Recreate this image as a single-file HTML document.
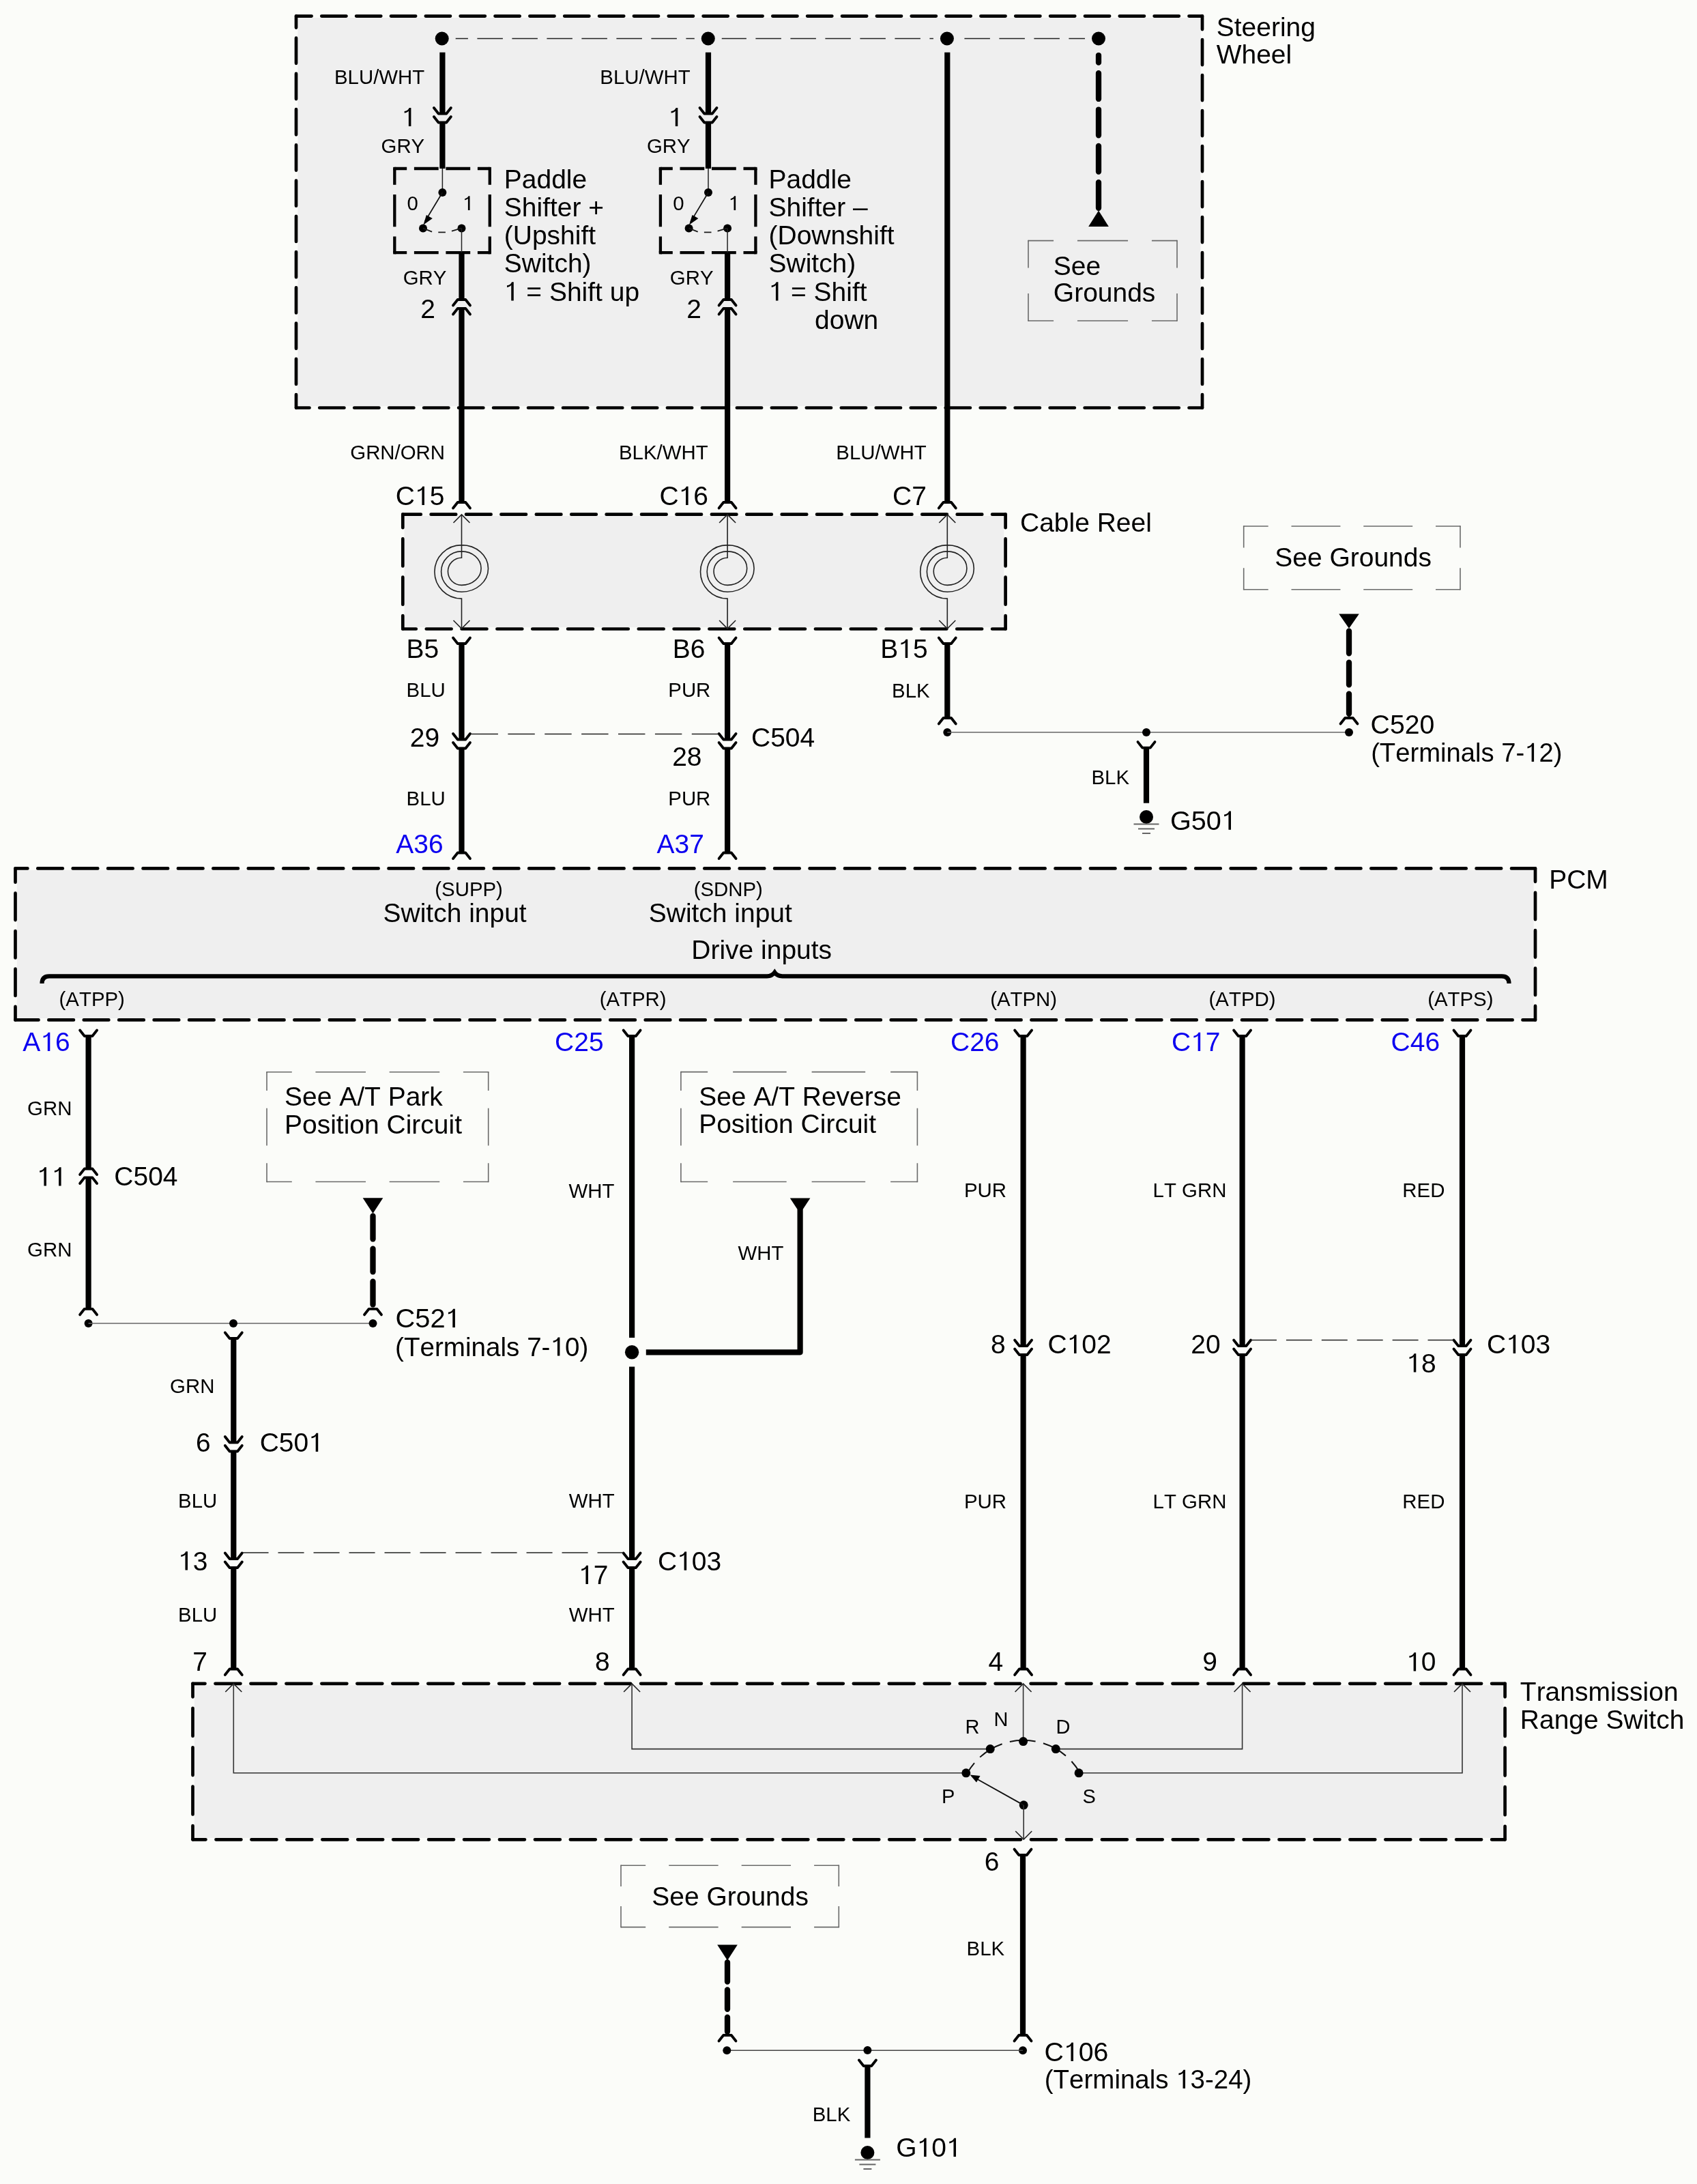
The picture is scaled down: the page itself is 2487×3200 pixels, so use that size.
<!DOCTYPE html>
<html><head><meta charset="utf-8"><style>
html,body{margin:0;padding:0;background:#fbfcf9;}
svg{display:block;will-change:transform;}
text{font-family:"Liberation Sans", sans-serif;font-kerning:none;}
</style></head><body>
<svg width="2487" height="3200" viewBox="0 0 2487 3200">
<rect x="0" y="0" width="2487" height="3200" fill="#fbfcf9"/>
<rect x="436.35" y="25.95" width="1323.3" height="569.2" fill="#efefef"/>
<path d="M434,23.6 L456.6,23.6 M471.28,23.6 L507.45,23.6 M522.13,23.6 L558.3,23.6 M572.98,23.6 L609.15,23.6 M623.83,23.6 L659.99,23.6 M674.68,23.6 L710.84,23.6 M725.53,23.6 L761.69,23.6 M776.38,23.6 L812.54,23.6 M827.22,23.6 L863.39,23.6 M878.07,23.6 L914.24,23.6 M928.92,23.6 L965.09,23.6 M979.77,23.6 L1015.94,23.6 M1030.62,23.6 L1066.78,23.6 M1081.47,23.6 L1117.63,23.6 M1132.32,23.6 L1168.48,23.6 M1183.16,23.6 L1219.33,23.6 M1234.01,23.6 L1270.18,23.6 M1284.86,23.6 L1321.03,23.6 M1335.71,23.6 L1371.88,23.6 M1386.56,23.6 L1422.72,23.6 M1437.41,23.6 L1473.57,23.6 M1488.26,23.6 L1524.42,23.6 M1539.11,23.6 L1575.27,23.6 M1589.95,23.6 L1626.12,23.6 M1640.8,23.6 L1676.97,23.6 M1691.65,23.6 L1727.82,23.6 M1742.5,23.6 L1762,23.6 " stroke="#000" stroke-width="4.7" stroke-linecap="round" fill="none"/>
<path d="M1762,23.6 L1762,43.1 M1762,58.11 L1762,95.09 M1762,110.1 L1762,147.08 M1762,162.09 L1762,199.07 M1762,214.08 L1762,251.06 M1762,266.07 L1762,303.04 M1762,318.06 L1762,355.03 M1762,370.04 L1762,407.02 M1762,422.03 L1762,459.01 M1762,474.02 L1762,511 M1762,526.01 L1762,562.99 M1762,578 L1762,597.5 " stroke="#000" stroke-width="4.7" stroke-linecap="round" fill="none"/>
<path d="M1762,597.5 L1742.5,597.5 M1727.78,597.5 L1691.53,597.5 M1676.81,597.5 L1640.56,597.5 M1625.84,597.5 L1589.59,597.5 M1574.87,597.5 L1538.61,597.5 M1523.9,597.5 L1487.64,597.5 M1472.93,597.5 L1436.67,597.5 M1421.95,597.5 L1385.7,597.5 M1370.98,597.5 L1334.73,597.5 M1320.01,597.5 L1283.76,597.5 M1269.04,597.5 L1232.79,597.5 M1218.07,597.5 L1181.82,597.5 M1167.1,597.5 L1130.84,597.5 M1116.13,597.5 L1079.87,597.5 M1065.16,597.5 L1028.9,597.5 M1014.18,597.5 L977.93,597.5 M963.21,597.5 L926.96,597.5 M912.24,597.5 L875.99,597.5 M861.27,597.5 L825.02,597.5 M810.3,597.5 L774.05,597.5 M759.33,597.5 L723.07,597.5 M708.36,597.5 L672.1,597.5 M657.39,597.5 L621.13,597.5 M606.41,597.5 L570.16,597.5 M555.44,597.5 L519.19,597.5 M504.47,597.5 L468.22,597.5 M453.5,597.5 L434,597.5 " stroke="#000" stroke-width="4.7" stroke-linecap="round" fill="none"/>
<path d="M434,597.5 L434,578 M434,562.92 L434,525.77 M434,510.69 L434,473.54 M434,458.45 L434,421.3 M434,406.22 L434,369.07 M434,353.99 L434,316.84 M434,301.76 L434,264.61 M434,249.53 L434,212.38 M434,197.3 L434,160.15 M434,145.06 L434,107.91 M434,92.83 L434,55.68 M434,40.6 L434,23.6 " stroke="#000" stroke-width="4.7" stroke-linecap="round" fill="none"/>
<text transform="translate(1782.73,52.9) scale(0.9870,1)" x="0" y="0" font-size="39.5" text-anchor="start" fill="#000" >Steering</text>
<text transform="translate(1782.73,93.1) scale(0.9870,1)" x="0" y="0" font-size="39.5" text-anchor="start" fill="#000" >Wheel</text>
<line x1="648.4" y1="56.5" x2="1600" y2="56.5" stroke="#222" stroke-width="1.5" stroke-dasharray="37.5 13.5"/>
<circle cx="647.7" cy="56.5" r="20" fill="#efefef"/>
<circle cx="1037.8" cy="56.5" r="20" fill="#efefef"/>
<circle cx="1387.9" cy="56.5" r="20" fill="#efefef"/>
<circle cx="1610" cy="56.5" r="20" fill="#efefef"/>
<circle cx="647.7" cy="56.5" r="10" fill="#000"/>
<circle cx="1037.8" cy="56.5" r="10" fill="#000"/>
<circle cx="1387.9" cy="56.5" r="10" fill="#000"/>
<circle cx="1610" cy="56.5" r="10" fill="#000"/>
<line x1="648.4" y1="76.8" x2="648.4" y2="166.5" stroke="#000" stroke-width="8.2" stroke-linecap="butt" />
<path d="M635.9,158 L642.6,166.5 L654.2,166.5 L660.9,158" stroke="#000" stroke-width="3.8" fill="none" stroke-linejoin="round" stroke-linecap="round"/>
<path d="M635.9,171 L642.6,179.5 L654.2,179.5 L660.9,171" stroke="#000" stroke-width="3.8" fill="none" stroke-linejoin="round" stroke-linecap="round"/>
<line x1="648.4" y1="179.5" x2="648.4" y2="247" stroke="#000" stroke-width="8.2" stroke-linecap="butt" />
<text transform="translate(558.54,224) scale(0.9800,1)" x="0" y="0" font-size="30" text-anchor="start" fill="#000" >GRY</text>
<text transform="translate(588.44,185.1) scale(0.9870,1)" x="0" y="0" font-size="39.5" text-anchor="start" fill="#000" > </text>
<path d="M0.268,0 L0.358,0 L0.358,0.688 L0.29,0.688 C0.255,0.61 0.2,0.575 0.108,0.562 L0.108,0.495 C0.18,0.505 0.235,0.53 0.268,0.575 Z" transform="translate(588.44,185.1) scale(38.986,-39.5)" fill="#000"/>
<text transform="translate(489.97,122.6) scale(0.9800,1)" x="0" y="0" font-size="30" text-anchor="start" fill="#000" >BLU/WHT</text>
<path d="M578.3,247 L596.2,247 M606.9,247 L642.7,247 M653.4,247 L689.2,247 M699.9,247 L717.8,247 " stroke="#000" stroke-width="4.3" stroke-linecap="butt" fill="none"/>
<path d="M717.8,247 L717.8,270.72 M717.8,284.88 L717.8,332.32 M717.8,346.48 L717.8,370.2 " stroke="#000" stroke-width="4.3" stroke-linecap="butt" fill="none"/>
<path d="M717.8,370.2 L699.9,370.2 M689.2,370.2 L653.4,370.2 M642.7,370.2 L606.9,370.2 M596.2,370.2 L578.3,370.2 " stroke="#000" stroke-width="4.3" stroke-linecap="butt" fill="none"/>
<path d="M578.3,370.2 L578.3,346.48 M578.3,332.32 L578.3,284.88 M578.3,270.72 L578.3,247 " stroke="#000" stroke-width="4.3" stroke-linecap="butt" fill="none"/>
<rect x="576.15" y="244.85" width="4.3" height="4.3" fill="#000"/>
<rect x="715.65" y="244.85" width="4.3" height="4.3" fill="#000"/>
<rect x="715.65" y="368.05" width="4.3" height="4.3" fill="#000"/>
<rect x="576.15" y="368.05" width="4.3" height="4.3" fill="#000"/>
<line x1="648.4" y1="247" x2="648.4" y2="282" stroke="#222" stroke-width="1.5" stroke-linecap="butt" />
<circle cx="648.4" cy="282" r="6" fill="#000"/>
<circle cx="620" cy="334.4" r="6" fill="#000"/>
<circle cx="676.5" cy="334.4" r="6" fill="#000"/>
<line x1="648.4" y1="282" x2="622.5" y2="325" stroke="#111" stroke-width="1.7" stroke-linecap="butt" />
<path d="M620.4,329.5 L624.9,315 L633.8,320 Z" fill="#000"/>
<path d="M620,334.4 L633.1,339.7 M642.3,340.4 L652.9,340.4 M662,338.6 L676,334.4" stroke="#1a1a1a" stroke-width="1.8" fill="none"/>
<line x1="676.5" y1="334.4" x2="676.5" y2="370.2" stroke="#222" stroke-width="1.5" stroke-linecap="butt" />
<text transform="translate(596.55,308) scale(0.9800,1)" x="0" y="0" font-size="30" text-anchor="start" fill="#000" >0</text>
<text transform="translate(678.02,308) scale(0.9800,1)" x="0" y="0" font-size="30" text-anchor="start" fill="#000" > </text>
<path d="M0.268,0 L0.358,0 L0.358,0.688 L0.29,0.688 C0.255,0.61 0.2,0.575 0.108,0.562 L0.108,0.495 C0.18,0.505 0.235,0.53 0.268,0.575 Z" transform="translate(678.02,308) scale(29.400,-30)" fill="#000"/>
<line x1="676.5" y1="370.2" x2="676.5" y2="439" stroke="#000" stroke-width="8.2" stroke-linecap="butt" />
<path d="M664,447.5 L670.7,439 L682.3,439 L689,447.5" stroke="#000" stroke-width="3.8" fill="none" stroke-linejoin="round" stroke-linecap="round"/>
<path d="M664,460.5 L670.7,452 L682.3,452 L689,460.5" stroke="#000" stroke-width="3.8" fill="none" stroke-linejoin="round" stroke-linecap="round"/>
<text transform="translate(590.64,417.4) scale(0.9800,1)" x="0" y="0" font-size="30" text-anchor="start" fill="#000" >GRY</text>
<text transform="translate(616.28,465.7) scale(0.9870,1)" x="0" y="0" font-size="39.5" text-anchor="start" fill="#000" >2</text>
<line x1="676.5" y1="452" x2="676.5" y2="736" stroke="#000" stroke-width="8.2" stroke-linecap="butt" />
<line x1="1038" y1="76.8" x2="1038" y2="166.5" stroke="#000" stroke-width="8.2" stroke-linecap="butt" />
<path d="M1025.5,158 L1032.2,166.5 L1043.8,166.5 L1050.5,158" stroke="#000" stroke-width="3.8" fill="none" stroke-linejoin="round" stroke-linecap="round"/>
<path d="M1025.5,171 L1032.2,179.5 L1043.8,179.5 L1050.5,171" stroke="#000" stroke-width="3.8" fill="none" stroke-linejoin="round" stroke-linecap="round"/>
<line x1="1038" y1="179.5" x2="1038" y2="247" stroke="#000" stroke-width="8.2" stroke-linecap="butt" />
<text transform="translate(947.94,224) scale(0.9800,1)" x="0" y="0" font-size="30" text-anchor="start" fill="#000" >GRY</text>
<text transform="translate(979.34,185.1) scale(0.9870,1)" x="0" y="0" font-size="39.5" text-anchor="start" fill="#000" > </text>
<path d="M0.268,0 L0.358,0 L0.358,0.688 L0.29,0.688 C0.255,0.61 0.2,0.575 0.108,0.562 L0.108,0.495 C0.18,0.505 0.235,0.53 0.268,0.575 Z" transform="translate(979.34,185.1) scale(38.986,-39.5)" fill="#000"/>
<text transform="translate(879.37,122.6) scale(0.9800,1)" x="0" y="0" font-size="30" text-anchor="start" fill="#000" >BLU/WHT</text>
<path d="M967.9,247 L985.8,247 M996.5,247 L1032.3,247 M1043,247 L1078.8,247 M1089.5,247 L1107.4,247 " stroke="#000" stroke-width="4.3" stroke-linecap="butt" fill="none"/>
<path d="M1107.4,247 L1107.4,270.72 M1107.4,284.88 L1107.4,332.32 M1107.4,346.48 L1107.4,370.2 " stroke="#000" stroke-width="4.3" stroke-linecap="butt" fill="none"/>
<path d="M1107.4,370.2 L1089.5,370.2 M1078.8,370.2 L1043,370.2 M1032.3,370.2 L996.5,370.2 M985.8,370.2 L967.9,370.2 " stroke="#000" stroke-width="4.3" stroke-linecap="butt" fill="none"/>
<path d="M967.9,370.2 L967.9,346.48 M967.9,332.32 L967.9,284.88 M967.9,270.72 L967.9,247 " stroke="#000" stroke-width="4.3" stroke-linecap="butt" fill="none"/>
<rect x="965.75" y="244.85" width="4.3" height="4.3" fill="#000"/>
<rect x="1105.25" y="244.85" width="4.3" height="4.3" fill="#000"/>
<rect x="1105.25" y="368.05" width="4.3" height="4.3" fill="#000"/>
<rect x="965.75" y="368.05" width="4.3" height="4.3" fill="#000"/>
<line x1="1038" y1="247" x2="1038" y2="282" stroke="#222" stroke-width="1.5" stroke-linecap="butt" />
<circle cx="1038" cy="282" r="6" fill="#000"/>
<circle cx="1009.6" cy="334.4" r="6" fill="#000"/>
<circle cx="1066.1" cy="334.4" r="6" fill="#000"/>
<line x1="1038" y1="282" x2="1012.1" y2="325" stroke="#111" stroke-width="1.7" stroke-linecap="butt" />
<path d="M1010,329.5 L1014.5,315 L1023.4,320 Z" fill="#000"/>
<path d="M1009.6,334.4 L1022.7,339.7 M1031.9,340.4 L1042.5,340.4 M1051.6,338.6 L1065.6,334.4" stroke="#1a1a1a" stroke-width="1.8" fill="none"/>
<line x1="1066.1" y1="334.4" x2="1066.1" y2="370.2" stroke="#222" stroke-width="1.5" stroke-linecap="butt" />
<text transform="translate(986.15,308) scale(0.9800,1)" x="0" y="0" font-size="30" text-anchor="start" fill="#000" >0</text>
<text transform="translate(1067.62,308) scale(0.9800,1)" x="0" y="0" font-size="30" text-anchor="start" fill="#000" > </text>
<path d="M0.268,0 L0.358,0 L0.358,0.688 L0.29,0.688 C0.255,0.61 0.2,0.575 0.108,0.562 L0.108,0.495 C0.18,0.505 0.235,0.53 0.268,0.575 Z" transform="translate(1067.62,308) scale(29.400,-30)" fill="#000"/>
<line x1="1066.1" y1="370.2" x2="1066.1" y2="439" stroke="#000" stroke-width="8.2" stroke-linecap="butt" />
<path d="M1053.6,447.5 L1060.3,439 L1071.9,439 L1078.6,447.5" stroke="#000" stroke-width="3.8" fill="none" stroke-linejoin="round" stroke-linecap="round"/>
<path d="M1053.6,460.5 L1060.3,452 L1071.9,452 L1078.6,460.5" stroke="#000" stroke-width="3.8" fill="none" stroke-linejoin="round" stroke-linecap="round"/>
<text transform="translate(981.84,417.4) scale(0.9800,1)" x="0" y="0" font-size="30" text-anchor="start" fill="#000" >GRY</text>
<text transform="translate(1006.28,465.7) scale(0.9870,1)" x="0" y="0" font-size="39.5" text-anchor="start" fill="#000" >2</text>
<line x1="1066.1" y1="452" x2="1066.1" y2="736" stroke="#000" stroke-width="8.2" stroke-linecap="butt" />
<text transform="translate(738.8,275.9) scale(0.9870,1)" x="0" y="0" font-size="39.5" text-anchor="start" fill="#000" >Paddle</text>
<text transform="translate(738.8,317.05) scale(0.9870,1)" x="0" y="0" font-size="39.5" text-anchor="start" fill="#000" >Shifter +</text>
<text transform="translate(738.8,358.2) scale(0.9870,1)" x="0" y="0" font-size="39.5" text-anchor="start" fill="#000" >(Upshift</text>
<text transform="translate(738.8,399.35) scale(0.9870,1)" x="0" y="0" font-size="39.5" text-anchor="start" fill="#000" >Switch)</text>
<text transform="translate(738.8,440.5) scale(0.9870,1)" x="0" y="0" font-size="39.5" text-anchor="start" fill="#000" >  = Shift up</text>
<path d="M0.268,0 L0.358,0 L0.358,0.688 L0.29,0.688 C0.255,0.61 0.2,0.575 0.108,0.562 L0.108,0.495 C0.18,0.505 0.235,0.53 0.268,0.575 Z" transform="translate(738.8,440.5) scale(38.986,-39.5)" fill="#000"/>
<text transform="translate(1126.5,275.9) scale(0.9870,1)" x="0" y="0" font-size="39.5" text-anchor="start" fill="#000" >Paddle</text>
<text transform="translate(1126.5,317.05) scale(0.9870,1)" x="0" y="0" font-size="39.5" text-anchor="start" fill="#000" >Shifter –</text>
<text transform="translate(1126.5,358.2) scale(0.9870,1)" x="0" y="0" font-size="39.5" text-anchor="start" fill="#000" >(Downshift</text>
<text transform="translate(1126.5,399.35) scale(0.9870,1)" x="0" y="0" font-size="39.5" text-anchor="start" fill="#000" >Switch)</text>
<text transform="translate(1126.5,440.5) scale(0.9870,1)" x="0" y="0" font-size="39.5" text-anchor="start" fill="#000" >  = Shift</text>
<path d="M0.268,0 L0.358,0 L0.358,0.688 L0.29,0.688 C0.255,0.61 0.2,0.575 0.108,0.562 L0.108,0.495 C0.18,0.505 0.235,0.53 0.268,0.575 Z" transform="translate(1126.5,440.5) scale(38.986,-39.5)" fill="#000"/>
<text transform="translate(1194.06,481.8) scale(0.9870,1)" x="0" y="0" font-size="39.5" text-anchor="start" fill="#000" >down</text>
<line x1="1388.3" y1="76.8" x2="1388.3" y2="736" stroke="#000" stroke-width="8.2" stroke-linecap="butt" />
<path d="M1610,304.85 L1610,267.15 M1610,251.55 L1610,213.85 M1610,198.25 L1610,160.55 M1610,144.95 L1610,107.25 M1610,91.65 L1610,81.05 " stroke="#000" stroke-width="8.3" stroke-linecap="round" fill="none"/>
<path d="M1595.2,332 L1624.8,332 L1610,308.6 Z" fill="#000"/>
<path d="M1507,352.6 L1544.06,352.6 M1578.94,352.6 L1653.06,352.6 M1687.94,352.6 L1725,352.6 " stroke="#6a6a6a" stroke-width="1.6" stroke-linecap="butt" fill="none"/>
<path d="M1725,352.6 L1725,392.52 M1725,430.08 L1725,470 " stroke="#6a6a6a" stroke-width="1.6" stroke-linecap="butt" fill="none"/>
<path d="M1725,470 L1687.94,470 M1653.06,470 L1578.94,470 M1544.06,470 L1507,470 " stroke="#6a6a6a" stroke-width="1.6" stroke-linecap="butt" fill="none"/>
<path d="M1507,470 L1507,430.08 M1507,392.52 L1507,352.6 " stroke="#6a6a6a" stroke-width="1.6" stroke-linecap="butt" fill="none"/>
<rect x="1506.2" y="351.8" width="1.6" height="1.6" fill="#6a6a6a"/>
<rect x="1724.2" y="351.8" width="1.6" height="1.6" fill="#6a6a6a"/>
<rect x="1724.2" y="469.2" width="1.6" height="1.6" fill="#6a6a6a"/>
<rect x="1506.2" y="469.2" width="1.6" height="1.6" fill="#6a6a6a"/>
<text transform="translate(1543.83,403) scale(0.9870,1)" x="0" y="0" font-size="39.5" text-anchor="start" fill="#000" >See</text>
<text transform="translate(1543.83,441.8) scale(0.9870,1)" x="0" y="0" font-size="39.5" text-anchor="start" fill="#000" >Grounds</text>
<text transform="translate(513.27,673) scale(0.9800,1)" x="0" y="0" font-size="30" text-anchor="start" fill="#000" >GRN/ORN</text>
<text transform="translate(907,673) scale(0.9800,1)" x="0" y="0" font-size="30" text-anchor="start" fill="#000" >BLK/WHT</text>
<text transform="translate(1225.37,673) scale(0.9800,1)" x="0" y="0" font-size="30" text-anchor="start" fill="#000" >BLU/WHT</text>
<text transform="translate(579.82,740) scale(0.9870,1)" x="0" y="0" font-size="39.5" text-anchor="start" fill="#000" >C 5</text>
<path d="M0.268,0 L0.358,0 L0.358,0.688 L0.29,0.688 C0.255,0.61 0.2,0.575 0.108,0.562 L0.108,0.495 C0.18,0.505 0.235,0.53 0.268,0.575 Z" transform="translate(607.97,740) scale(38.986,-39.5)" fill="#000"/>
<text transform="translate(966.49,740) scale(0.9870,1)" x="0" y="0" font-size="39.5" text-anchor="start" fill="#000" >C 6</text>
<path d="M0.268,0 L0.358,0 L0.358,0.688 L0.29,0.688 C0.255,0.61 0.2,0.575 0.108,0.562 L0.108,0.495 C0.18,0.505 0.235,0.53 0.268,0.575 Z" transform="translate(994.65,740) scale(38.986,-39.5)" fill="#000"/>
<text transform="translate(1308.12,740) scale(0.9870,1)" x="0" y="0" font-size="39.5" text-anchor="start" fill="#000" >C7</text>
<path d="M664,744.5 L670.7,736 L682.3,736 L689,744.5" stroke="#000" stroke-width="3.8" fill="none" stroke-linejoin="round" stroke-linecap="round"/>
<path d="M1053.6,744.5 L1060.3,736 L1071.9,736 L1078.6,744.5" stroke="#000" stroke-width="3.8" fill="none" stroke-linejoin="round" stroke-linecap="round"/>
<path d="M1375.8,744.5 L1382.5,736 L1394.1,736 L1400.8,744.5" stroke="#000" stroke-width="3.8" fill="none" stroke-linejoin="round" stroke-linecap="round"/>
<rect x="592.65" y="756.05" width="878.6" height="163.1" fill="#efefef"/>
<path d="M590.3,753.7 L616.8,753.7 M631.64,753.7 L668.2,753.7 M683.05,753.7 L719.61,753.7 M734.45,753.7 L771.01,753.7 M785.85,753.7 L822.41,753.7 M837.26,753.7 L873.82,753.7 M888.66,753.7 L925.22,753.7 M940.06,753.7 L976.62,753.7 M991.47,753.7 L1028.03,753.7 M1042.87,753.7 L1079.43,753.7 M1094.28,753.7 L1130.84,753.7 M1145.68,753.7 L1182.24,753.7 M1197.08,753.7 L1233.64,753.7 M1248.49,753.7 L1285.05,753.7 M1299.89,753.7 L1336.45,753.7 M1351.29,753.7 L1387.85,753.7 M1402.7,753.7 L1439.26,753.7 M1454.1,753.7 L1473.6,753.7 " stroke="#000" stroke-width="4.7" stroke-linecap="round" fill="none"/>
<path d="M1473.6,753.7 L1473.6,773.2 M1473.6,789.45 L1473.6,829.48 M1473.6,845.72 L1473.6,885.75 M1473.6,902 L1473.6,921.5 " stroke="#000" stroke-width="4.7" stroke-linecap="round" fill="none"/>
<path d="M1473.6,921.5 L1454.1,921.5 M1439.13,921.5 L1402.27,921.5 M1387.3,921.5 L1350.43,921.5 M1335.47,921.5 L1298.6,921.5 M1283.63,921.5 L1246.77,921.5 M1231.8,921.5 L1194.93,921.5 M1179.97,921.5 L1143.1,921.5 M1128.13,921.5 L1091.27,921.5 M1076.3,921.5 L1039.43,921.5 M1024.47,921.5 L987.6,921.5 M972.63,921.5 L935.77,921.5 M920.8,921.5 L883.93,921.5 M868.97,921.5 L832.1,921.5 M817.13,921.5 L780.27,921.5 M765.3,921.5 L728.43,921.5 M713.47,921.5 L676.6,921.5 M661.63,921.5 L624.77,921.5 M609.8,921.5 L590.3,921.5 " stroke="#000" stroke-width="4.7" stroke-linecap="round" fill="none"/>
<path d="M590.3,921.5 L590.3,902 M590.3,885.75 L590.3,845.72 M590.3,829.48 L590.3,789.45 M590.3,773.2 L590.3,753.7 " stroke="#000" stroke-width="4.7" stroke-linecap="round" fill="none"/>
<text transform="translate(1495.02,779) scale(0.9870,1)" x="0" y="0" font-size="39.5" text-anchor="start" fill="#000" >Cable Reel</text>
<path d="M664.5,766 L676.5,754 L688.5,766" stroke="#222" stroke-width="1.6" fill="none" stroke-linejoin="miter" stroke-linecap="butt"/>
<path d="M676.5,754 L676.5,817.3 A20,20 0 0 0 676.5,857.4 A28.6,24.75 0 0 0 676.5,807.9 A29.9,29.7 0 0 0 676.5,867.3 A39,34.35 0 0 0 676.5,798.6 A39.6,39.25 0 0 0 676.5,877.1 L676.5,921" stroke="#222" stroke-width="1.6" fill="none"/>
<path d="M664.5,909 L676.5,921 L688.5,909" stroke="#222" stroke-width="1.6" fill="none" stroke-linejoin="miter" stroke-linecap="butt"/>
<path d="M664,934.5 L670.7,943 L682.3,943 L689,934.5" stroke="#000" stroke-width="3.8" fill="none" stroke-linejoin="round" stroke-linecap="round"/>
<path d="M1054.1,766 L1066.1,754 L1078.1,766" stroke="#222" stroke-width="1.6" fill="none" stroke-linejoin="miter" stroke-linecap="butt"/>
<path d="M1066.1,754 L1066.1,817.3 A20,20 0 0 0 1066.1,857.4 A28.6,24.75 0 0 0 1066.1,807.9 A29.9,29.7 0 0 0 1066.1,867.3 A39,34.35 0 0 0 1066.1,798.6 A39.6,39.25 0 0 0 1066.1,877.1 L1066.1,921" stroke="#222" stroke-width="1.6" fill="none"/>
<path d="M1054.1,909 L1066.1,921 L1078.1,909" stroke="#222" stroke-width="1.6" fill="none" stroke-linejoin="miter" stroke-linecap="butt"/>
<path d="M1053.6,934.5 L1060.3,943 L1071.9,943 L1078.6,934.5" stroke="#000" stroke-width="3.8" fill="none" stroke-linejoin="round" stroke-linecap="round"/>
<path d="M1376.3,766 L1388.3,754 L1400.3,766" stroke="#222" stroke-width="1.6" fill="none" stroke-linejoin="miter" stroke-linecap="butt"/>
<path d="M1388.3,754 L1388.3,817.3 A20,20 0 0 0 1388.3,857.4 A28.6,24.75 0 0 0 1388.3,807.9 A29.9,29.7 0 0 0 1388.3,867.3 A39,34.35 0 0 0 1388.3,798.6 A39.6,39.25 0 0 0 1388.3,877.1 L1388.3,921" stroke="#222" stroke-width="1.6" fill="none"/>
<path d="M1376.3,909 L1388.3,921 L1400.3,909" stroke="#222" stroke-width="1.6" fill="none" stroke-linejoin="miter" stroke-linecap="butt"/>
<path d="M1375.8,934.5 L1382.5,943 L1394.1,943 L1400.8,934.5" stroke="#000" stroke-width="3.8" fill="none" stroke-linejoin="round" stroke-linecap="round"/>
<text transform="translate(595.55,964) scale(0.9870,1)" x="0" y="0" font-size="39.5" text-anchor="start" fill="#000" >B5</text>
<text transform="translate(985.73,964) scale(0.9870,1)" x="0" y="0" font-size="39.5" text-anchor="start" fill="#000" >B6</text>
<text transform="translate(1290.27,964) scale(0.9870,1)" x="0" y="0" font-size="39.5" text-anchor="start" fill="#000" >B 5</text>
<path d="M0.268,0 L0.358,0 L0.358,0.688 L0.29,0.688 C0.255,0.61 0.2,0.575 0.108,0.562 L0.108,0.495 C0.18,0.505 0.235,0.53 0.268,0.575 Z" transform="translate(1316.27,964) scale(38.986,-39.5)" fill="#000"/>
<text transform="translate(595.58,1020.6) scale(0.9800,1)" x="0" y="0" font-size="30" text-anchor="start" fill="#000" >BLU</text>
<text transform="translate(979.29,1020.6) scale(0.9800,1)" x="0" y="0" font-size="30" text-anchor="start" fill="#000" >PUR</text>
<text transform="translate(1307.06,1021.5) scale(0.9800,1)" x="0" y="0" font-size="30" text-anchor="start" fill="#000" >BLK</text>
<line x1="676.5" y1="943" x2="676.5" y2="1083.5" stroke="#000" stroke-width="8.2" stroke-linecap="butt" />
<path d="M664,1075 L670.7,1083.5 L682.3,1083.5 L689,1075" stroke="#000" stroke-width="3.8" fill="none" stroke-linejoin="round" stroke-linecap="round"/>
<path d="M664,1088 L670.7,1096.5 L682.3,1096.5 L689,1088" stroke="#000" stroke-width="3.8" fill="none" stroke-linejoin="round" stroke-linecap="round"/>
<line x1="676.5" y1="1096.5" x2="676.5" y2="1249.5" stroke="#000" stroke-width="8.2" stroke-linecap="butt" />
<path d="M664,1258 L670.7,1249.5 L682.3,1249.5 L689,1258" stroke="#000" stroke-width="3.8" fill="none" stroke-linejoin="round" stroke-linecap="round"/>
<line x1="1066.1" y1="943" x2="1066.1" y2="1083.5" stroke="#000" stroke-width="8.2" stroke-linecap="butt" />
<path d="M1053.6,1075 L1060.3,1083.5 L1071.9,1083.5 L1078.6,1075" stroke="#000" stroke-width="3.8" fill="none" stroke-linejoin="round" stroke-linecap="round"/>
<path d="M1053.6,1088 L1060.3,1096.5 L1071.9,1096.5 L1078.6,1088" stroke="#000" stroke-width="3.8" fill="none" stroke-linejoin="round" stroke-linecap="round"/>
<line x1="1066.1" y1="1096.5" x2="1066.1" y2="1249.5" stroke="#000" stroke-width="8.2" stroke-linecap="butt" />
<path d="M1053.6,1258 L1060.3,1249.5 L1071.9,1249.5 L1078.6,1258" stroke="#000" stroke-width="3.8" fill="none" stroke-linejoin="round" stroke-linecap="round"/>
<path d="M690.5,1075.5 L729.91,1075.5 M744.38,1075.5 L783.79,1075.5 M798.26,1075.5 L837.68,1075.5 M852.14,1075.5 L891.56,1075.5 M906.02,1075.5 L945.44,1075.5 M959.91,1075.5 L999.32,1075.5 M1013.79,1075.5 L1053.2,1075.5 " stroke="#222" stroke-width="1.5" fill="none"/>
<text transform="translate(600.78,1094) scale(0.9870,1)" x="0" y="0" font-size="39.5" text-anchor="start" fill="#000" >29</text>
<text transform="translate(985.13,1121.7) scale(0.9870,1)" x="0" y="0" font-size="39.5" text-anchor="start" fill="#000" >28</text>
<text transform="translate(1101.02,1094) scale(0.9870,1)" x="0" y="0" font-size="39.5" text-anchor="start" fill="#000" >C504</text>
<text transform="translate(595.58,1180.3) scale(0.9800,1)" x="0" y="0" font-size="30" text-anchor="start" fill="#000" >BLU</text>
<text transform="translate(979.29,1180.3) scale(0.9800,1)" x="0" y="0" font-size="30" text-anchor="start" fill="#000" >PUR</text>
<text transform="translate(580.34,1249.6) scale(0.9870,1)" x="0" y="0" font-size="39.5" text-anchor="start" fill="#0c00f0" >A36</text>
<text transform="translate(962.59,1249.6) scale(0.9870,1)" x="0" y="0" font-size="39.5" text-anchor="start" fill="#0c00f0" >A37</text>
<line x1="1388.3" y1="943" x2="1388.3" y2="1052" stroke="#000" stroke-width="8.2" stroke-linecap="butt" />
<path d="M1375.8,1060.5 L1382.5,1052 L1394.1,1052 L1400.8,1060.5" stroke="#000" stroke-width="3.8" fill="none" stroke-linejoin="round" stroke-linecap="round"/>
<circle cx="1388.3" cy="1073" r="6" fill="#000"/>
<line x1="1388.3" y1="1073" x2="1977" y2="1073" stroke="#666" stroke-width="1.5" stroke-linecap="butt" />
<circle cx="1680" cy="1073" r="6" fill="#000"/>
<path d="M1667.5,1087.1 L1674.2,1095.6 L1685.8,1095.6 L1692.5,1087.1" stroke="#000" stroke-width="3.8" fill="none" stroke-linejoin="round" stroke-linecap="round"/>
<line x1="1680" y1="1095.6" x2="1680" y2="1176.7" stroke="#000" stroke-width="8.2" stroke-linecap="butt" />
<circle cx="1680" cy="1197" r="10" fill="#000"/>
<line x1="1661.5" y1="1207.4" x2="1698.5" y2="1207.4" stroke="#666" stroke-width="2" stroke-linecap="butt" />
<line x1="1668" y1="1214.4" x2="1692" y2="1214.4" stroke="#666" stroke-width="2" stroke-linecap="butt" />
<line x1="1674" y1="1221" x2="1686" y2="1221" stroke="#666" stroke-width="2" stroke-linecap="butt" />
<text transform="translate(1599.46,1149.4) scale(0.9800,1)" x="0" y="0" font-size="30" text-anchor="start" fill="#000" >BLK</text>
<text transform="translate(1715.01,1215.8) scale(1.0021,1)" x="0" y="0" font-size="39.5" text-anchor="start" fill="#000" >G50 </text>
<path d="M0.268,0 L0.358,0 L0.358,0.688 L0.29,0.688 C0.255,0.61 0.2,0.575 0.108,0.562 L0.108,0.495 C0.18,0.505 0.235,0.53 0.268,0.575 Z" transform="translate(1789.83,1215.8) scale(39.584,-39.5)" fill="#000"/>
<path d="M1822.7,771 L1858.66,771 M1892.51,771 L1964.43,771 M1998.27,771 L2070.19,771 M2104.04,771 L2140,771 " stroke="#6a6a6a" stroke-width="1.6" stroke-linecap="butt" fill="none"/>
<path d="M2140,771 L2140,802.52 M2140,832.18 L2140,863.7 " stroke="#6a6a6a" stroke-width="1.6" stroke-linecap="butt" fill="none"/>
<path d="M2140,863.7 L2104.04,863.7 M2070.19,863.7 L1998.27,863.7 M1964.43,863.7 L1892.51,863.7 M1858.66,863.7 L1822.7,863.7 " stroke="#6a6a6a" stroke-width="1.6" stroke-linecap="butt" fill="none"/>
<path d="M1822.7,863.7 L1822.7,832.18 M1822.7,802.52 L1822.7,771 " stroke="#6a6a6a" stroke-width="1.6" stroke-linecap="butt" fill="none"/>
<rect x="1821.9" y="770.2" width="1.6" height="1.6" fill="#6a6a6a"/>
<rect x="2139.2" y="770.2" width="1.6" height="1.6" fill="#6a6a6a"/>
<rect x="2139.2" y="862.9" width="1.6" height="1.6" fill="#6a6a6a"/>
<rect x="1821.9" y="862.9" width="1.6" height="1.6" fill="#6a6a6a"/>
<text transform="translate(1868.23,829.5) scale(0.9870,1)" x="0" y="0" font-size="39.5" text-anchor="start" fill="#000" >See Grounds</text>
<path d="M1962.2,899.6 L1991.8,899.6 L1977,920.7 Z" fill="#000"/>
<path d="M1977,924.65 L1977,957.35 M1977,970.65 L1977,1003.35 M1977,1016.65 L1977,1045.85 " stroke="#000" stroke-width="8.3" stroke-linecap="round" fill="none"/>
<path d="M1964.5,1060.5 L1971.2,1052 L1982.8,1052 L1989.5,1060.5" stroke="#000" stroke-width="3.8" fill="none" stroke-linejoin="round" stroke-linecap="round"/>
<circle cx="1977" cy="1073" r="6" fill="#000"/>
<text transform="translate(2008.61,1075.4) scale(0.9925,1)" x="0" y="0" font-size="39.5" text-anchor="start" fill="#000" >C520</text>
<text transform="translate(2009.13,1116) scale(0.9683,1)" x="0" y="0" font-size="39.5" text-anchor="start" fill="#000" >(Terminals 7- 2)</text>
<path d="M0.268,0 L0.358,0 L0.358,0.688 L0.29,0.688 C0.255,0.61 0.2,0.575 0.108,0.562 L0.108,0.495 C0.18,0.505 0.235,0.53 0.268,0.575 Z" transform="translate(2234.39,1116) scale(38.247,-39.5)" fill="#000"/>
<rect x="24.85" y="1274.75" width="2222.8" height="217.3" fill="#efefef"/>
<path d="M22.5,1272.4 L40.4,1272.4 M55.25,1272.4 L91.82,1272.4 M106.67,1272.4 L143.25,1272.4 M158.09,1272.4 L194.67,1272.4 M209.52,1272.4 L246.09,1272.4 M260.94,1272.4 L297.51,1272.4 M312.36,1272.4 L348.94,1272.4 M363.78,1272.4 L400.36,1272.4 M415.21,1272.4 L451.78,1272.4 M466.63,1272.4 L503.2,1272.4 M518.05,1272.4 L554.63,1272.4 M569.48,1272.4 L606.05,1272.4 M620.9,1272.4 L657.47,1272.4 M672.32,1272.4 L708.89,1272.4 M723.74,1272.4 L760.32,1272.4 M775.17,1272.4 L811.74,1272.4 M826.59,1272.4 L863.16,1272.4 M878.01,1272.4 L914.59,1272.4 M929.43,1272.4 L966.01,1272.4 M980.86,1272.4 L1017.43,1272.4 M1032.28,1272.4 L1068.85,1272.4 M1083.7,1272.4 L1120.28,1272.4 M1135.12,1272.4 L1171.7,1272.4 M1186.55,1272.4 L1223.12,1272.4 M1237.97,1272.4 L1274.54,1272.4 M1289.39,1272.4 L1325.97,1272.4 M1340.81,1272.4 L1377.39,1272.4 M1392.24,1272.4 L1428.81,1272.4 M1443.66,1272.4 L1480.23,1272.4 M1495.08,1272.4 L1531.66,1272.4 M1546.51,1272.4 L1583.08,1272.4 M1597.93,1272.4 L1634.5,1272.4 M1649.35,1272.4 L1685.92,1272.4 M1700.77,1272.4 L1737.35,1272.4 M1752.2,1272.4 L1788.77,1272.4 M1803.62,1272.4 L1840.19,1272.4 M1855.04,1272.4 L1891.62,1272.4 M1906.46,1272.4 L1943.04,1272.4 M1957.89,1272.4 L1994.46,1272.4 M2009.31,1272.4 L2045.88,1272.4 M2060.73,1272.4 L2097.31,1272.4 M2112.15,1272.4 L2148.73,1272.4 M2163.58,1272.4 L2200.15,1272.4 M2215,1272.4 L2250,1272.4 " stroke="#000" stroke-width="4.7" stroke-linecap="round" fill="none"/>
<path d="M2250,1272.4 L2250,1291.8 M2250,1307.79 L2250,1347.17 M2250,1363.16 L2250,1402.54 M2250,1418.53 L2250,1457.91 M2250,1473.9 L2250,1494.4 " stroke="#000" stroke-width="4.7" stroke-linecap="round" fill="none"/>
<path d="M2250,1494.4 L2231.5,1494.4 M2216.65,1494.4 L2180.07,1494.4 M2165.22,1494.4 L2128.64,1494.4 M2113.78,1494.4 L2077.2,1494.4 M2062.35,1494.4 L2025.77,1494.4 M2010.92,1494.4 L1974.34,1494.4 M1959.49,1494.4 L1922.91,1494.4 M1908.06,1494.4 L1871.48,1494.4 M1856.62,1494.4 L1820.04,1494.4 M1805.19,1494.4 L1768.61,1494.4 M1753.76,1494.4 L1717.18,1494.4 M1702.33,1494.4 L1665.75,1494.4 M1650.9,1494.4 L1614.31,1494.4 M1599.46,1494.4 L1562.88,1494.4 M1548.03,1494.4 L1511.45,1494.4 M1496.6,1494.4 L1460.02,1494.4 M1445.17,1494.4 L1408.59,1494.4 M1393.73,1494.4 L1357.15,1494.4 M1342.3,1494.4 L1305.72,1494.4 M1290.87,1494.4 L1254.29,1494.4 M1239.44,1494.4 L1202.86,1494.4 M1188.01,1494.4 L1151.43,1494.4 M1136.57,1494.4 L1099.99,1494.4 M1085.14,1494.4 L1048.56,1494.4 M1033.71,1494.4 L997.13,1494.4 M982.28,1494.4 L945.7,1494.4 M930.85,1494.4 L894.27,1494.4 M879.41,1494.4 L842.83,1494.4 M827.98,1494.4 L791.4,1494.4 M776.55,1494.4 L739.97,1494.4 M725.12,1494.4 L688.54,1494.4 M673.69,1494.4 L637.1,1494.4 M622.25,1494.4 L585.67,1494.4 M570.82,1494.4 L534.24,1494.4 M519.39,1494.4 L482.81,1494.4 M467.96,1494.4 L431.38,1494.4 M416.52,1494.4 L379.94,1494.4 M365.09,1494.4 L328.51,1494.4 M313.66,1494.4 L277.08,1494.4 M262.23,1494.4 L225.65,1494.4 M210.8,1494.4 L174.22,1494.4 M159.36,1494.4 L122.78,1494.4 M107.93,1494.4 L71.35,1494.4 M56.5,1494.4 L22.5,1494.4 " stroke="#000" stroke-width="4.7" stroke-linecap="round" fill="none"/>
<path d="M22.5,1494.4 L22.5,1474.9 M22.5,1458.9 L22.5,1419.5 M22.5,1403.5 L22.5,1364.1 M22.5,1348.1 L22.5,1308.7 M22.5,1292.7 L22.5,1272.4 " stroke="#000" stroke-width="4.7" stroke-linecap="round" fill="none"/>
<text transform="translate(2270.2,1301.6) scale(0.9870,1)" x="0" y="0" font-size="39.5" text-anchor="start" fill="#000" >PCM</text>
<text transform="translate(637.28,1313.1) scale(0.9800,1)" x="0" y="0" font-size="30" text-anchor="start" fill="#000" >(SUPP)</text>
<text transform="translate(561.53,1351.4) scale(0.9870,1)" x="0" y="0" font-size="39.5" text-anchor="start" fill="#000" >Switch input</text>
<text transform="translate(1016.68,1313.1) scale(0.9800,1)" x="0" y="0" font-size="30" text-anchor="start" fill="#000" >(SDNP)</text>
<text transform="translate(950.73,1351.4) scale(0.9870,1)" x="0" y="0" font-size="39.5" text-anchor="start" fill="#000" >Switch input</text>
<text transform="translate(1013.3,1405) scale(0.9870,1)" x="0" y="0" font-size="39.5" text-anchor="start" fill="#000" >Drive inputs</text>
<path d="M61.5,1441 Q61.5,1430.3 72,1430.3 L1124,1430.3 Q1131.5,1430.3 1135.3,1424.8 Q1139,1430.3 1146.5,1430.3 L2201,1430.3 Q2211.5,1430.3 2211.5,1441" stroke="#000" stroke-width="6.2" fill="none" stroke-linejoin="miter" stroke-miterlimit="10"/>
<text transform="translate(86.58,1474) scale(0.9800,1)" x="0" y="0" font-size="30" text-anchor="start" fill="#000" >(ATPP)</text>
<text transform="translate(878.68,1474) scale(0.9800,1)" x="0" y="0" font-size="30" text-anchor="start" fill="#000" >(ATPR)</text>
<text transform="translate(1451.18,1474) scale(0.9800,1)" x="0" y="0" font-size="30" text-anchor="start" fill="#000" >(ATPN)</text>
<text transform="translate(1771.58,1474) scale(0.9800,1)" x="0" y="0" font-size="30" text-anchor="start" fill="#000" >(ATPD)</text>
<text transform="translate(2092.18,1474) scale(0.9800,1)" x="0" y="0" font-size="30" text-anchor="start" fill="#000" >(ATPS)</text>
<path d="M117.1,1509.5 L123.8,1518 L135.4,1518 L142.1,1509.5" stroke="#000" stroke-width="3.8" fill="none" stroke-linejoin="round" stroke-linecap="round"/>
<text transform="translate(33.34,1540) scale(0.9870,1)" x="0" y="0" font-size="39.5" text-anchor="start" fill="#0c00f0" >A 6</text>
<path d="M0.268,0 L0.358,0 L0.358,0.688 L0.29,0.688 C0.255,0.61 0.2,0.575 0.108,0.562 L0.108,0.495 C0.18,0.505 0.235,0.53 0.268,0.575 Z" transform="translate(59.35,1540) scale(38.986,-39.5)" fill="#0c00f0"/>
<path d="M913.6,1509.5 L920.3,1518 L931.9,1518 L938.6,1509.5" stroke="#000" stroke-width="3.8" fill="none" stroke-linejoin="round" stroke-linecap="round"/>
<text transform="translate(813.12,1540) scale(0.9870,1)" x="0" y="0" font-size="39.5" text-anchor="start" fill="#0c00f0" >C25</text>
<path d="M1487.1,1509.5 L1493.8,1518 L1505.4,1518 L1512.1,1509.5" stroke="#000" stroke-width="3.8" fill="none" stroke-linejoin="round" stroke-linecap="round"/>
<text transform="translate(1392.99,1540) scale(0.9870,1)" x="0" y="0" font-size="39.5" text-anchor="start" fill="#0c00f0" >C26</text>
<path d="M1808.1,1509.5 L1814.8,1518 L1826.4,1518 L1833.1,1509.5" stroke="#000" stroke-width="3.8" fill="none" stroke-linejoin="round" stroke-linecap="round"/>
<text transform="translate(1717.04,1540) scale(0.9870,1)" x="0" y="0" font-size="39.5" text-anchor="start" fill="#0c00f0" >C 7</text>
<path d="M0.268,0 L0.358,0 L0.358,0.688 L0.29,0.688 C0.255,0.61 0.2,0.575 0.108,0.562 L0.108,0.495 C0.18,0.505 0.235,0.53 0.268,0.575 Z" transform="translate(1745.2,1540) scale(38.986,-39.5)" fill="#0c00f0"/>
<path d="M2130.5,1509.5 L2137.2,1518 L2148.8,1518 L2155.5,1509.5" stroke="#000" stroke-width="3.8" fill="none" stroke-linejoin="round" stroke-linecap="round"/>
<text transform="translate(2038.59,1540) scale(0.9870,1)" x="0" y="0" font-size="39.5" text-anchor="start" fill="#0c00f0" >C46</text>
<line x1="129.6" y1="1518" x2="129.6" y2="1712.5" stroke="#000" stroke-width="8.2" stroke-linecap="butt" />
<path d="M117.1,1721 L123.8,1712.5 L135.4,1712.5 L142.1,1721" stroke="#000" stroke-width="3.8" fill="none" stroke-linejoin="round" stroke-linecap="round"/>
<path d="M117.1,1734 L123.8,1725.5 L135.4,1725.5 L142.1,1734" stroke="#000" stroke-width="3.8" fill="none" stroke-linejoin="round" stroke-linecap="round"/>
<line x1="129.6" y1="1725.5" x2="129.6" y2="1917.8" stroke="#000" stroke-width="8.2" stroke-linecap="butt" />
<path d="M117.1,1926.3 L123.8,1917.8 L135.4,1917.8 L142.1,1926.3" stroke="#000" stroke-width="3.8" fill="none" stroke-linejoin="round" stroke-linecap="round"/>
<circle cx="129.6" cy="1939" r="6" fill="#000"/>
<text transform="translate(40.07,1634.4) scale(0.9800,1)" x="0" y="0" font-size="30" text-anchor="start" fill="#000" >GRN</text>
<text transform="translate(53.96,1737.4) scale(0.9870,1)" x="0" y="0" font-size="39.5" text-anchor="start" fill="#000" >  </text>
<path d="M0.268,0 L0.358,0 L0.358,0.688 L0.29,0.688 C0.255,0.61 0.2,0.575 0.108,0.562 L0.108,0.495 C0.18,0.505 0.235,0.53 0.268,0.575 Z" transform="translate(53.96,1737.4) scale(38.986,-39.5)" fill="#000"/>
<path d="M0.268,0 L0.358,0 L0.358,0.688 L0.29,0.688 C0.255,0.61 0.2,0.575 0.108,0.562 L0.108,0.495 C0.18,0.505 0.235,0.53 0.268,0.575 Z" transform="translate(75.64,1737.4) scale(38.986,-39.5)" fill="#000"/>
<text transform="translate(167.32,1737.4) scale(0.9870,1)" x="0" y="0" font-size="39.5" text-anchor="start" fill="#000" >C504</text>
<text transform="translate(40.07,1841.3) scale(0.9800,1)" x="0" y="0" font-size="30" text-anchor="start" fill="#000" >GRN</text>
<line x1="129.6" y1="1939" x2="546.5" y2="1939" stroke="#666" stroke-width="1.5" stroke-linecap="butt" />
<circle cx="342" cy="1939" r="6" fill="#000"/>
<path d="M391,1570.8 L427.8,1570.8 M462.43,1570.8 L536.03,1570.8 M570.67,1570.8 L644.27,1570.8 M678.9,1570.8 L715.7,1570.8 " stroke="#6a6a6a" stroke-width="1.6" stroke-linecap="butt" fill="none"/>
<path d="M715.7,1570.8 L715.7,1598.12 M715.7,1623.83 L715.7,1678.47 M715.7,1704.18 L715.7,1731.5 " stroke="#6a6a6a" stroke-width="1.6" stroke-linecap="butt" fill="none"/>
<path d="M715.7,1731.5 L678.9,1731.5 M644.27,1731.5 L570.67,1731.5 M536.03,1731.5 L462.43,1731.5 M427.8,1731.5 L391,1731.5 " stroke="#6a6a6a" stroke-width="1.6" stroke-linecap="butt" fill="none"/>
<path d="M391,1731.5 L391,1704.18 M391,1678.47 L391,1623.83 M391,1598.12 L391,1570.8 " stroke="#6a6a6a" stroke-width="1.6" stroke-linecap="butt" fill="none"/>
<rect x="390.2" y="1570" width="1.6" height="1.6" fill="#6a6a6a"/>
<rect x="714.9" y="1570" width="1.6" height="1.6" fill="#6a6a6a"/>
<rect x="714.9" y="1730.7" width="1.6" height="1.6" fill="#6a6a6a"/>
<rect x="390.2" y="1730.7" width="1.6" height="1.6" fill="#6a6a6a"/>
<text transform="translate(417.03,1619.5) scale(0.9870,1)" x="0" y="0" font-size="39.5" text-anchor="start" fill="#000" >See A/T Park</text>
<text transform="translate(417.03,1660.7) scale(0.9870,1)" x="0" y="0" font-size="39.5" text-anchor="start" fill="#000" >Position Circuit</text>
<path d="M531.7,1755.3 L561.3,1755.3 L546.5,1778 Z" fill="#000"/>
<path d="M546.5,1781.75 L546.5,1815.45 M546.5,1829.75 L546.5,1863.45 M546.5,1877.75 L546.5,1911.45 " stroke="#000" stroke-width="8.3" stroke-linecap="round" fill="none"/>
<path d="M534,1926.3 L540.7,1917.8 L552.3,1917.8 L559,1926.3" stroke="#000" stroke-width="3.8" fill="none" stroke-linejoin="round" stroke-linecap="round"/>
<circle cx="546.5" cy="1939" r="6" fill="#000"/>
<text transform="translate(579.48,1945) scale(1.0095,1)" x="0" y="0" font-size="39.5" text-anchor="start" fill="#000" >C52 </text>
<path d="M0.268,0 L0.358,0 L0.358,0.688 L0.29,0.688 C0.255,0.61 0.2,0.575 0.108,0.562 L0.108,0.495 C0.18,0.505 0.235,0.53 0.268,0.575 Z" transform="translate(652.62,1945) scale(39.875,-39.5)" fill="#000"/>
<text transform="translate(579.1,1986.6) scale(0.9778,1)" x="0" y="0" font-size="39.5" text-anchor="start" fill="#000" >(Terminals 7- 0)</text>
<path d="M0.268,0 L0.358,0 L0.358,0.688 L0.29,0.688 C0.255,0.61 0.2,0.575 0.108,0.562 L0.108,0.495 C0.18,0.505 0.235,0.53 0.268,0.575 Z" transform="translate(806.57,1986.6) scale(38.622,-39.5)" fill="#000"/>
<path d="M329.8,1952.5 L336.5,1961 L348.1,1961 L354.8,1952.5" stroke="#000" stroke-width="3.8" fill="none" stroke-linejoin="round" stroke-linecap="round"/>
<line x1="342.3" y1="1961" x2="342.3" y2="2113.5" stroke="#000" stroke-width="8.2" stroke-linecap="butt" />
<path d="M329.8,2105 L336.5,2113.5 L348.1,2113.5 L354.8,2105" stroke="#000" stroke-width="3.8" fill="none" stroke-linejoin="round" stroke-linecap="round"/>
<path d="M329.8,2118 L336.5,2126.5 L348.1,2126.5 L354.8,2118" stroke="#000" stroke-width="3.8" fill="none" stroke-linejoin="round" stroke-linecap="round"/>
<line x1="342.3" y1="2126.5" x2="342.3" y2="2284" stroke="#000" stroke-width="8.2" stroke-linecap="butt" />
<path d="M329.8,2275.5 L336.5,2284 L348.1,2284 L354.8,2275.5" stroke="#000" stroke-width="3.8" fill="none" stroke-linejoin="round" stroke-linecap="round"/>
<path d="M329.8,2288.5 L336.5,2297 L348.1,2297 L354.8,2288.5" stroke="#000" stroke-width="3.8" fill="none" stroke-linejoin="round" stroke-linecap="round"/>
<line x1="342.3" y1="2297" x2="342.3" y2="2445.5" stroke="#000" stroke-width="8.2" stroke-linecap="butt" />
<path d="M329.8,2454 L336.5,2445.5 L348.1,2445.5 L354.8,2454" stroke="#000" stroke-width="3.8" fill="none" stroke-linejoin="round" stroke-linecap="round"/>
<text transform="translate(249.07,2041.4) scale(0.9800,1)" x="0" y="0" font-size="30" text-anchor="start" fill="#000" >GRN</text>
<text transform="translate(287.03,2126.9) scale(0.9870,1)" x="0" y="0" font-size="39.5" text-anchor="start" fill="#000" >6</text>
<text transform="translate(380.72,2126.9) scale(0.9870,1)" x="0" y="0" font-size="39.5" text-anchor="start" fill="#000" >C50 </text>
<path d="M0.268,0 L0.358,0 L0.358,0.688 L0.29,0.688 C0.255,0.61 0.2,0.575 0.108,0.562 L0.108,0.495 C0.18,0.505 0.235,0.53 0.268,0.575 Z" transform="translate(452.24,2126.9) scale(38.986,-39.5)" fill="#000"/>
<text transform="translate(261.08,2209.4) scale(0.9800,1)" x="0" y="0" font-size="30" text-anchor="start" fill="#000" >BLU</text>
<text transform="translate(261.05,2300.5) scale(0.9870,1)" x="0" y="0" font-size="39.5" text-anchor="start" fill="#000" > 3</text>
<path d="M0.268,0 L0.358,0 L0.358,0.688 L0.29,0.688 C0.255,0.61 0.2,0.575 0.108,0.562 L0.108,0.495 C0.18,0.505 0.235,0.53 0.268,0.575 Z" transform="translate(261.05,2300.5) scale(38.986,-39.5)" fill="#000"/>
<text transform="translate(261.08,2376) scale(0.9800,1)" x="0" y="0" font-size="30" text-anchor="start" fill="#000" >BLU</text>
<text transform="translate(282.28,2448) scale(0.9870,1)" x="0" y="0" font-size="39.5" text-anchor="start" fill="#000" >7</text>
<line x1="926.1" y1="1518" x2="926.1" y2="1960" stroke="#000" stroke-width="8.2" stroke-linecap="butt" />
<circle cx="926.1" cy="1981.3" r="10.2" fill="#000"/>
<path d="M946.8,1981.3 L1172.6,1981.3 L1172.6,1772" stroke="#000" stroke-width="8.2" fill="none" stroke-linejoin="round"/>
<path d="M1157.8,1755.6 L1187.4,1755.6 L1172.6,1778 Z" fill="#000"/>
<text transform="translate(1081.57,1845.5) scale(0.9800,1)" x="0" y="0" font-size="30" text-anchor="start" fill="#000" >WHT</text>
<path d="M997.9,1570.6 L1037.17,1570.6 M1074.13,1570.6 L1152.67,1570.6 M1189.63,1570.6 L1268.17,1570.6 M1305.13,1570.6 L1344.4,1570.6 " stroke="#6a6a6a" stroke-width="1.6" stroke-linecap="butt" fill="none"/>
<path d="M1344.4,1570.6 L1344.4,1597.95 M1344.4,1623.7 L1344.4,1678.4 M1344.4,1704.15 L1344.4,1731.5 " stroke="#6a6a6a" stroke-width="1.6" stroke-linecap="butt" fill="none"/>
<path d="M1344.4,1731.5 L1305.13,1731.5 M1268.17,1731.5 L1189.63,1731.5 M1152.67,1731.5 L1074.13,1731.5 M1037.17,1731.5 L997.9,1731.5 " stroke="#6a6a6a" stroke-width="1.6" stroke-linecap="butt" fill="none"/>
<path d="M997.9,1731.5 L997.9,1704.15 M997.9,1678.4 L997.9,1623.7 M997.9,1597.95 L997.9,1570.6 " stroke="#6a6a6a" stroke-width="1.6" stroke-linecap="butt" fill="none"/>
<rect x="997.1" y="1569.8" width="1.6" height="1.6" fill="#6a6a6a"/>
<rect x="1343.6" y="1569.8" width="1.6" height="1.6" fill="#6a6a6a"/>
<rect x="1343.6" y="1730.7" width="1.6" height="1.6" fill="#6a6a6a"/>
<rect x="997.1" y="1730.7" width="1.6" height="1.6" fill="#6a6a6a"/>
<text transform="translate(1024.13,1619.9) scale(0.9870,1)" x="0" y="0" font-size="39.5" text-anchor="start" fill="#000" >See A/T Reverse</text>
<text transform="translate(1024.13,1660.4) scale(0.9870,1)" x="0" y="0" font-size="39.5" text-anchor="start" fill="#000" >Position Circuit</text>
<line x1="926.1" y1="2002.5" x2="926.1" y2="2284" stroke="#000" stroke-width="8.2" stroke-linecap="butt" />
<path d="M913.6,2275.5 L920.3,2284 L931.9,2284 L938.6,2275.5" stroke="#000" stroke-width="3.8" fill="none" stroke-linejoin="round" stroke-linecap="round"/>
<path d="M913.6,2288.5 L920.3,2297 L931.9,2297 L938.6,2288.5" stroke="#000" stroke-width="3.8" fill="none" stroke-linejoin="round" stroke-linecap="round"/>
<line x1="926.1" y1="2297" x2="926.1" y2="2445.5" stroke="#000" stroke-width="8.2" stroke-linecap="butt" />
<path d="M913.6,2454 L920.3,2445.5 L931.9,2445.5 L938.6,2454" stroke="#000" stroke-width="3.8" fill="none" stroke-linejoin="round" stroke-linecap="round"/>
<text transform="translate(833.54,1755.2) scale(0.9800,1)" x="0" y="0" font-size="30" text-anchor="start" fill="#000" >WHT</text>
<text transform="translate(833.74,2209.4) scale(0.9800,1)" x="0" y="0" font-size="30" text-anchor="start" fill="#000" >WHT</text>
<text transform="translate(833.74,2376) scale(0.9800,1)" x="0" y="0" font-size="30" text-anchor="start" fill="#000" >WHT</text>
<path d="M355.5,2275.1 L393.54,2275.1 M407.51,2275.1 L445.55,2275.1 M459.51,2275.1 L497.55,2275.1 M511.52,2275.1 L549.56,2275.1 M563.52,2275.1 L601.56,2275.1 M615.53,2275.1 L653.57,2275.1 M667.54,2275.1 L705.58,2275.1 M719.54,2275.1 L757.58,2275.1 M771.55,2275.1 L809.59,2275.1 M823.55,2275.1 L861.59,2275.1 M875.56,2275.1 L913.6,2275.1 " stroke="#222" stroke-width="1.5" fill="none"/>
<text transform="translate(848,2321) scale(0.9870,1)" x="0" y="0" font-size="39.5" text-anchor="start" fill="#000" > 7</text>
<path d="M0.268,0 L0.358,0 L0.358,0.688 L0.29,0.688 C0.255,0.61 0.2,0.575 0.108,0.562 L0.108,0.495 C0.18,0.505 0.235,0.53 0.268,0.575 Z" transform="translate(848,2321) scale(38.986,-39.5)" fill="#000"/>
<text transform="translate(964.02,2300.7) scale(0.9870,1)" x="0" y="0" font-size="39.5" text-anchor="start" fill="#000" >C 03</text>
<path d="M0.268,0 L0.358,0 L0.358,0.688 L0.29,0.688 C0.255,0.61 0.2,0.575 0.108,0.562 L0.108,0.495 C0.18,0.505 0.235,0.53 0.268,0.575 Z" transform="translate(992.18,2300.7) scale(38.986,-39.5)" fill="#000"/>
<text transform="translate(872.01,2448) scale(0.9870,1)" x="0" y="0" font-size="39.5" text-anchor="start" fill="#000" >8</text>
<line x1="1499.6" y1="1518" x2="1499.6" y2="1972" stroke="#000" stroke-width="8.2" stroke-linecap="butt" />
<path d="M1487.1,1963.5 L1493.8,1972 L1505.4,1972 L1512.1,1963.5" stroke="#000" stroke-width="3.8" fill="none" stroke-linejoin="round" stroke-linecap="round"/>
<path d="M1487.1,1976.5 L1493.8,1985 L1505.4,1985 L1512.1,1976.5" stroke="#000" stroke-width="3.8" fill="none" stroke-linejoin="round" stroke-linecap="round"/>
<line x1="1499.6" y1="1985" x2="1499.6" y2="2445.5" stroke="#000" stroke-width="8.2" stroke-linecap="butt" />
<path d="M1487.1,2454 L1493.8,2445.5 L1505.4,2445.5 L1512.1,2454" stroke="#000" stroke-width="3.8" fill="none" stroke-linejoin="round" stroke-linecap="round"/>
<line x1="1820.6" y1="1518" x2="1820.6" y2="1972" stroke="#000" stroke-width="8.2" stroke-linecap="butt" />
<path d="M1808.1,1963.5 L1814.8,1972 L1826.4,1972 L1833.1,1963.5" stroke="#000" stroke-width="3.8" fill="none" stroke-linejoin="round" stroke-linecap="round"/>
<path d="M1808.1,1976.5 L1814.8,1985 L1826.4,1985 L1833.1,1976.5" stroke="#000" stroke-width="3.8" fill="none" stroke-linejoin="round" stroke-linecap="round"/>
<line x1="1820.6" y1="1985" x2="1820.6" y2="2445.5" stroke="#000" stroke-width="8.2" stroke-linecap="butt" />
<path d="M1808.1,2454 L1814.8,2445.5 L1826.4,2445.5 L1833.1,2454" stroke="#000" stroke-width="3.8" fill="none" stroke-linejoin="round" stroke-linecap="round"/>
<line x1="2143" y1="1518" x2="2143" y2="1972" stroke="#000" stroke-width="8.2" stroke-linecap="butt" />
<path d="M2130.5,1963.5 L2137.2,1972 L2148.8,1972 L2155.5,1963.5" stroke="#000" stroke-width="3.8" fill="none" stroke-linejoin="round" stroke-linecap="round"/>
<path d="M2130.5,1976.5 L2137.2,1985 L2148.8,1985 L2155.5,1976.5" stroke="#000" stroke-width="3.8" fill="none" stroke-linejoin="round" stroke-linecap="round"/>
<line x1="2143" y1="1985" x2="2143" y2="2445.5" stroke="#000" stroke-width="8.2" stroke-linecap="butt" />
<path d="M2130.5,2454 L2137.2,2445.5 L2148.8,2445.5 L2155.5,2454" stroke="#000" stroke-width="3.8" fill="none" stroke-linejoin="round" stroke-linecap="round"/>
<path d="M1833,1963.5 L1870.97,1963.5 M1884.91,1963.5 L1922.87,1963.5 M1936.81,1963.5 L1974.78,1963.5 M1988.72,1963.5 L2026.69,1963.5 M2040.63,1963.5 L2078.59,1963.5 M2092.53,1963.5 L2130.5,1963.5 " stroke="#222" stroke-width="1.5" fill="none"/>
<text transform="translate(1412.99,1754.2) scale(0.9800,1)" x="0" y="0" font-size="30" text-anchor="start" fill="#000" >PUR</text>
<text transform="translate(1689.59,1754.2) scale(0.9800,1)" x="0" y="0" font-size="30" text-anchor="start" fill="#000" >LT GRN</text>
<text transform="translate(2055.33,1754.2) scale(0.9800,1)" x="0" y="0" font-size="30" text-anchor="start" fill="#000" >RED</text>
<text transform="translate(1412.99,2209.7) scale(0.9800,1)" x="0" y="0" font-size="30" text-anchor="start" fill="#000" >PUR</text>
<text transform="translate(1689.59,2209.7) scale(0.9800,1)" x="0" y="0" font-size="30" text-anchor="start" fill="#000" >LT GRN</text>
<text transform="translate(2055.33,2209.7) scale(0.9800,1)" x="0" y="0" font-size="30" text-anchor="start" fill="#000" >RED</text>
<text transform="translate(1452.01,1982.9) scale(0.9870,1)" x="0" y="0" font-size="39.5" text-anchor="start" fill="#000" >8</text>
<text transform="translate(1535.42,1982.9) scale(0.9870,1)" x="0" y="0" font-size="39.5" text-anchor="start" fill="#000" >C 02</text>
<path d="M0.268,0 L0.358,0 L0.358,0.688 L0.29,0.688 C0.255,0.61 0.2,0.575 0.108,0.562 L0.108,0.495 C0.18,0.505 0.235,0.53 0.268,0.575 Z" transform="translate(1563.58,1982.9) scale(38.986,-39.5)" fill="#000"/>
<text transform="translate(1745.36,1982.9) scale(0.9870,1)" x="0" y="0" font-size="39.5" text-anchor="start" fill="#000" >20</text>
<text transform="translate(2061.33,2010.5) scale(0.9870,1)" x="0" y="0" font-size="39.5" text-anchor="start" fill="#000" > 8</text>
<path d="M0.268,0 L0.358,0 L0.358,0.688 L0.29,0.688 C0.255,0.61 0.2,0.575 0.108,0.562 L0.108,0.495 C0.18,0.505 0.235,0.53 0.268,0.575 Z" transform="translate(2061.33,2010.5) scale(38.986,-39.5)" fill="#000"/>
<text transform="translate(2179.02,1982.9) scale(0.9870,1)" x="0" y="0" font-size="39.5" text-anchor="start" fill="#000" >C 03</text>
<path d="M0.268,0 L0.358,0 L0.358,0.688 L0.29,0.688 C0.255,0.61 0.2,0.575 0.108,0.562 L0.108,0.495 C0.18,0.505 0.235,0.53 0.268,0.575 Z" transform="translate(2207.18,1982.9) scale(38.986,-39.5)" fill="#000"/>
<text transform="translate(1448.46,2448.4) scale(0.9870,1)" x="0" y="0" font-size="39.5" text-anchor="start" fill="#000" >4</text>
<text transform="translate(1762.16,2448.4) scale(0.9870,1)" x="0" y="0" font-size="39.5" text-anchor="start" fill="#000" >9</text>
<text transform="translate(2061.16,2448.4) scale(0.9870,1)" x="0" y="0" font-size="39.5" text-anchor="start" fill="#000" > 0</text>
<path d="M0.268,0 L0.358,0 L0.358,0.688 L0.29,0.688 C0.255,0.61 0.2,0.575 0.108,0.562 L0.108,0.495 C0.18,0.505 0.235,0.53 0.268,0.575 Z" transform="translate(2061.16,2448.4) scale(38.986,-39.5)" fill="#000"/>
<rect x="284.85" y="2469.15" width="1918.4" height="223.8" fill="#efefef"/>
<path d="M282.5,2466.8 L300.5,2466.8 M315.5,2466.8 L352.46,2466.8 M367.47,2466.8 L404.42,2466.8 M419.43,2466.8 L456.38,2466.8 M471.39,2466.8 L508.34,2466.8 M523.35,2466.8 L560.3,2466.8 M575.31,2466.8 L612.27,2466.8 M627.27,2466.8 L664.23,2466.8 M679.23,2466.8 L716.19,2466.8 M731.19,2466.8 L768.15,2466.8 M783.15,2466.8 L820.11,2466.8 M835.11,2466.8 L872.07,2466.8 M887.08,2466.8 L924.03,2466.8 M939.04,2466.8 L975.99,2466.8 M991,2466.8 L1027.95,2466.8 M1042.96,2466.8 L1079.91,2466.8 M1094.92,2466.8 L1131.88,2466.8 M1146.88,2466.8 L1183.84,2466.8 M1198.84,2466.8 L1235.8,2466.8 M1250.8,2466.8 L1287.76,2466.8 M1302.76,2466.8 L1339.72,2466.8 M1354.72,2466.8 L1391.68,2466.8 M1406.69,2466.8 L1443.64,2466.8 M1458.65,2466.8 L1495.6,2466.8 M1510.61,2466.8 L1547.56,2466.8 M1562.57,2466.8 L1599.52,2466.8 M1614.53,2466.8 L1651.49,2466.8 M1666.49,2466.8 L1703.45,2466.8 M1718.45,2466.8 L1755.41,2466.8 M1770.41,2466.8 L1807.37,2466.8 M1822.37,2466.8 L1859.33,2466.8 M1874.33,2466.8 L1911.29,2466.8 M1926.3,2466.8 L1963.25,2466.8 M1978.26,2466.8 L2015.21,2466.8 M2030.22,2466.8 L2067.17,2466.8 M2082.18,2466.8 L2119.13,2466.8 M2134.14,2466.8 L2171.1,2466.8 M2186.1,2466.8 L2205.6,2466.8 " stroke="#000" stroke-width="4.7" stroke-linecap="round" fill="none"/>
<path d="M2205.6,2466.8 L2205.6,2486.3 M2205.6,2502.94 L2205.6,2543.92 M2205.6,2560.56 L2205.6,2601.54 M2205.6,2618.18 L2205.6,2659.16 M2205.6,2675.8 L2205.6,2695.3 " stroke="#000" stroke-width="4.7" stroke-linecap="round" fill="none"/>
<path d="M2205.6,2695.3 L2186.1,2695.3 M2171.1,2695.3 L2134.17,2695.3 M2119.17,2695.3 L2082.23,2695.3 M2067.24,2695.3 L2030.3,2695.3 M2015.3,2695.3 L1978.37,2695.3 M1963.37,2695.3 L1926.43,2695.3 M1911.44,2695.3 L1874.5,2695.3 M1859.5,2695.3 L1822.57,2695.3 M1807.57,2695.3 L1770.63,2695.3 M1755.64,2695.3 L1718.7,2695.3 M1703.7,2695.3 L1666.77,2695.3 M1651.77,2695.3 L1614.83,2695.3 M1599.84,2695.3 L1562.9,2695.3 M1547.9,2695.3 L1510.97,2695.3 M1495.97,2695.3 L1459.03,2695.3 M1444.04,2695.3 L1407.1,2695.3 M1392.1,2695.3 L1355.17,2695.3 M1340.17,2695.3 L1303.23,2695.3 M1288.24,2695.3 L1251.3,2695.3 M1236.3,2695.3 L1199.36,2695.3 M1184.37,2695.3 L1147.43,2695.3 M1132.43,2695.3 L1095.5,2695.3 M1080.5,2695.3 L1043.56,2695.3 M1028.57,2695.3 L991.63,2695.3 M976.63,2695.3 L939.7,2695.3 M924.7,2695.3 L887.76,2695.3 M872.77,2695.3 L835.83,2695.3 M820.83,2695.3 L783.9,2695.3 M768.9,2695.3 L731.96,2695.3 M716.97,2695.3 L680.03,2695.3 M665.03,2695.3 L628.1,2695.3 M613.1,2695.3 L576.16,2695.3 M561.17,2695.3 L524.23,2695.3 M509.23,2695.3 L472.3,2695.3 M457.3,2695.3 L420.36,2695.3 M405.37,2695.3 L368.43,2695.3 M353.43,2695.3 L316.5,2695.3 M301.5,2695.3 L282.5,2695.3 " stroke="#000" stroke-width="4.7" stroke-linecap="round" fill="none"/>
<path d="M282.5,2695.3 L282.5,2675 M282.5,2658.43 L282.5,2617.62 M282.5,2601.05 L282.5,2560.25 M282.5,2543.68 L282.5,2502.87 M282.5,2486.3 L282.5,2466.8 " stroke="#000" stroke-width="4.7" stroke-linecap="round" fill="none"/>
<text transform="translate(2227.82,2492.4) scale(0.9870,1)" x="0" y="0" font-size="39.5" text-anchor="start" fill="#000" >Transmission</text>
<text transform="translate(2227.82,2532.9) scale(0.9870,1)" x="0" y="0" font-size="39.5" text-anchor="start" fill="#000" >Range Switch</text>
<path d="M330.3,2479 L342.3,2467 L354.3,2479" stroke="#222" stroke-width="1.6" fill="none" stroke-linejoin="miter" stroke-linecap="butt"/>
<path d="M342.3,2467 L342.3,2597.8 L1415.8,2597.8" stroke="#333" stroke-width="1.6" fill="none"/>
<path d="M914.1,2479 L926.1,2467 L938.1,2479" stroke="#222" stroke-width="1.6" fill="none" stroke-linejoin="miter" stroke-linecap="butt"/>
<path d="M926.1,2467 L926.1,2562.6 L1451.2,2562.6" stroke="#333" stroke-width="1.6" fill="none"/>
<path d="M1808.6,2479 L1820.6,2467 L1832.6,2479" stroke="#222" stroke-width="1.6" fill="none" stroke-linejoin="miter" stroke-linecap="butt"/>
<path d="M1820.6,2467 L1820.6,2562.6 L1547.3,2562.6" stroke="#333" stroke-width="1.6" fill="none"/>
<path d="M2131,2479 L2143,2467 L2155,2479" stroke="#222" stroke-width="1.6" fill="none" stroke-linejoin="miter" stroke-linecap="butt"/>
<path d="M2143,2467 L2143,2597.8 L1581.1,2597.8" stroke="#333" stroke-width="1.6" fill="none"/>
<path d="M1487.6,2479 L1499.6,2467 L1511.6,2479" stroke="#222" stroke-width="1.6" fill="none" stroke-linejoin="miter" stroke-linecap="butt"/>
<line x1="1499.6" y1="2467" x2="1499.6" y2="2551.6" stroke="#333" stroke-width="1.6" stroke-linecap="butt" />
<path d="M1417.19,2598.6 A95,95 0 0 1 1582.31,2597.01" stroke="#111" stroke-width="2" fill="none" stroke-dasharray="38 11.7" stroke-dashoffset="19"/>
<circle cx="1415.8" cy="2597.8" r="6.5" fill="#000"/>
<circle cx="1451.2" cy="2562.6" r="6.5" fill="#000"/>
<circle cx="1499.6" cy="2551.6" r="6.5" fill="#000"/>
<circle cx="1547.3" cy="2562.6" r="6.5" fill="#000"/>
<circle cx="1581.1" cy="2597.8" r="6.5" fill="#000"/>
<circle cx="1500.2" cy="2644.8" r="6.5" fill="#000"/>
<line x1="1500.2" y1="2644.8" x2="1428" y2="2604.5" stroke="#111" stroke-width="2" stroke-linecap="butt" />
<path d="M1421.5,2600.5 L1436.5,2602 L1431,2611.5 Z" fill="#000"/>
<line x1="1500.2" y1="2644.8" x2="1500.2" y2="2695" stroke="#333" stroke-width="1.6" stroke-linecap="butt" />
<path d="M1488.2,2683 L1500.2,2695 L1512.2,2683" stroke="#222" stroke-width="1.6" fill="none" stroke-linejoin="miter" stroke-linecap="butt"/>
<text x="1414.62" y="2540" font-size="29" text-anchor="start" fill="#000" >R</text>
<text x="1456.62" y="2528.5" font-size="29" text-anchor="start" fill="#000" >N</text>
<text x="1547.42" y="2540" font-size="29" text-anchor="start" fill="#000" >D</text>
<text x="1379.92" y="2641.5" font-size="29" text-anchor="start" fill="#000" >P</text>
<text x="1586.38" y="2641.5" font-size="29" text-anchor="start" fill="#000" >S</text>
<path d="M1486.5,2709.5 L1493.2,2718 L1504.8,2718 L1511.5,2709.5" stroke="#000" stroke-width="3.8" fill="none" stroke-linejoin="round" stroke-linecap="round"/>
<line x1="1499" y1="2718" x2="1499" y2="2982" stroke="#000" stroke-width="8.2" stroke-linecap="butt" />
<path d="M1486.5,2990.5 L1493.2,2982 L1504.8,2982 L1511.5,2990.5" stroke="#000" stroke-width="3.8" fill="none" stroke-linejoin="round" stroke-linecap="round"/>
<circle cx="1499" cy="3004.3" r="6" fill="#000"/>
<text transform="translate(1442.63,2740.7) scale(0.9870,1)" x="0" y="0" font-size="39.5" text-anchor="start" fill="#000" >6</text>
<text transform="translate(1416.56,2865) scale(0.9800,1)" x="0" y="0" font-size="30" text-anchor="start" fill="#000" >BLK</text>
<line x1="1065.3" y1="3004.3" x2="1499" y2="3004.3" stroke="#444" stroke-width="1.5" stroke-linecap="butt" />
<circle cx="1271.4" cy="3004" r="6" fill="#000"/>
<path d="M1258.9,3018.5 L1265.6,3027 L1277.2,3027 L1283.9,3018.5" stroke="#000" stroke-width="3.8" fill="none" stroke-linejoin="round" stroke-linecap="round"/>
<line x1="1271.4" y1="3027" x2="1271.4" y2="3132.4" stroke="#000" stroke-width="8.2" stroke-linecap="butt" />
<circle cx="1271.4" cy="3154" r="10" fill="#000"/>
<line x1="1252.9" y1="3164.4" x2="1289.9" y2="3164.4" stroke="#666" stroke-width="2" stroke-linecap="butt" />
<line x1="1259.4" y1="3171.4" x2="1283.4" y2="3171.4" stroke="#666" stroke-width="2" stroke-linecap="butt" />
<line x1="1265.4" y1="3178" x2="1277.4" y2="3178" stroke="#666" stroke-width="2" stroke-linecap="butt" />
<text transform="translate(1190.76,3107.6) scale(0.9800,1)" x="0" y="0" font-size="30" text-anchor="start" fill="#000" >BLK</text>
<text transform="translate(1313.34,3160) scale(0.9870,1)" x="0" y="0" font-size="39.5" text-anchor="start" fill="#000" >G 0 </text>
<path d="M0.268,0 L0.358,0 L0.358,0.688 L0.29,0.688 C0.255,0.61 0.2,0.575 0.108,0.562 L0.108,0.495 C0.18,0.505 0.235,0.53 0.268,0.575 Z" transform="translate(1343.66,3160) scale(38.986,-39.5)" fill="#000"/>
<path d="M0.268,0 L0.358,0 L0.358,0.688 L0.29,0.688 C0.255,0.61 0.2,0.575 0.108,0.562 L0.108,0.495 C0.18,0.505 0.235,0.53 0.268,0.575 Z" transform="translate(1387.03,3160) scale(38.986,-39.5)" fill="#000"/>
<text transform="translate(1530.61,3020) scale(0.9935,1)" x="0" y="0" font-size="39.5" text-anchor="start" fill="#000" >C 06</text>
<path d="M0.268,0 L0.358,0 L0.358,0.688 L0.29,0.688 C0.255,0.61 0.2,0.575 0.108,0.562 L0.108,0.495 C0.18,0.505 0.235,0.53 0.268,0.575 Z" transform="translate(1558.95,3020) scale(39.244,-39.5)" fill="#000"/>
<text transform="translate(1530.81,3059.9) scale(0.9743,1)" x="0" y="0" font-size="39.5" text-anchor="start" fill="#000" >(Terminals  3-24)</text>
<path d="M0.268,0 L0.358,0 L0.358,0.688 L0.29,0.688 C0.255,0.61 0.2,0.575 0.108,0.562 L0.108,0.495 C0.18,0.505 0.235,0.53 0.268,0.575 Z" transform="translate(1723.25,3059.9) scale(38.483,-39.5)" fill="#000"/>
<path d="M910,2733.3 L946.19,2733.3 M980.25,2733.3 L1052.62,2733.3 M1086.68,2733.3 L1159.05,2733.3 M1193.11,2733.3 L1229.3,2733.3 " stroke="#6a6a6a" stroke-width="1.6" stroke-linecap="butt" fill="none"/>
<path d="M1229.3,2733.3 L1229.3,2764 M1229.3,2792.9 L1229.3,2823.6 " stroke="#6a6a6a" stroke-width="1.6" stroke-linecap="butt" fill="none"/>
<path d="M1229.3,2823.6 L1193.11,2823.6 M1159.05,2823.6 L1086.68,2823.6 M1052.62,2823.6 L980.25,2823.6 M946.19,2823.6 L910,2823.6 " stroke="#6a6a6a" stroke-width="1.6" stroke-linecap="butt" fill="none"/>
<path d="M910,2823.6 L910,2792.9 M910,2764 L910,2733.3 " stroke="#6a6a6a" stroke-width="1.6" stroke-linecap="butt" fill="none"/>
<rect x="909.2" y="2732.5" width="1.6" height="1.6" fill="#6a6a6a"/>
<rect x="1228.5" y="2732.5" width="1.6" height="1.6" fill="#6a6a6a"/>
<rect x="1228.5" y="2822.8" width="1.6" height="1.6" fill="#6a6a6a"/>
<rect x="909.2" y="2822.8" width="1.6" height="1.6" fill="#6a6a6a"/>
<text transform="translate(955.23,2792) scale(0.9870,1)" x="0" y="0" font-size="39.5" text-anchor="start" fill="#000" >See Grounds</text>
<path d="M1051.2,2849.6 L1080.8,2849.6 L1066,2872.5 Z" fill="#000"/>
<path d="M1066,2875.15 L1066,2903.55 M1066,2915.45 L1066,2943.85 M1066,2955.75 L1066,2976.85 " stroke="#000" stroke-width="8.3" stroke-linecap="round" fill="none"/>
<path d="M1053.5,2990.5 L1060.2,2982 L1071.8,2982 L1078.5,2990.5" stroke="#000" stroke-width="3.8" fill="none" stroke-linejoin="round" stroke-linecap="round"/>
<circle cx="1065.3" cy="3004.3" r="6" fill="#000"/>
</svg></body></html>
